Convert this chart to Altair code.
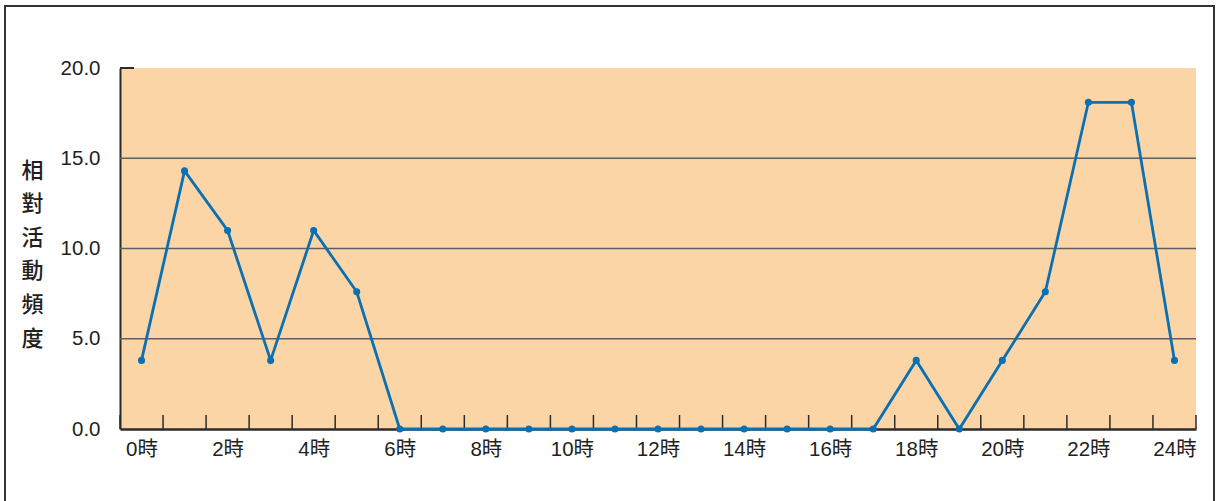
import altair as alt
import pandas as pd

hours = list(range(25))
activity = [3.8, 14.3, 11.0, 3.8, 11.0, 7.6, 0, 0, 0, 0, 0, 0, 0, 0, 0, 0, 0, 0,
            3.8, 0, 3.8, 7.6, 18.1, 18.1, 3.8]
y_ticks = [0, 5, 10, 15, 20]
grid_values = [5, 10, 15]
x_label_values = list(range(0, 25, 2))
x_tick_bounds = [h + 0.5 for h in range(-1, 25)]
y_title = ["相", "對", "活", "動", "頻", "度"]

FONT = "Liberation Sans, Noto Sans CJK TC"
BLUE = "#0a70b4"
DARK = "#2b2b2b"

W, H = 1076, 361

df = pd.DataFrame({"hour": hours, "value": activity})

xscale = alt.Scale(domain=[-0.5, 24.5], nice=False, zero=False)
yscale = alt.Scale(domain=[0, 20], nice=False)

x_enc = alt.X(
    "hour:Q",
    scale=xscale,
    axis=alt.Axis(
        values=x_label_values,
        labelExpr="datum.value + '時'",
        ticks=False,
        grid=False,
        title=None,
        labelPadding=10,
        labelFontSize=20.5,
        labelFont=FONT,
        labelColor="#231f20",
        domainColor=DARK,
        domainWidth=2.5,
    ),
)
y_enc = alt.Y(
    "value:Q",
    scale=yscale,
    axis=alt.Axis(
        values=y_ticks,
        format=".1f",
        ticks=False,
        grid=False,
        labelPadding=20,
        labelFontSize=20.5,
        labelFont=FONT,
        labelColor="#231f20",
        domainColor=DARK,
        domainWidth=2,
        title=y_title,
        titleAngle=0,
        titleFont=FONT,
        titleFontSize=22,
        titleFontWeight=500,
        titleColor="#231f20",
        titleLineHeight=33.6,
        titleAlign="center",
        titleBaseline="top",
        titleX=-88,
        titleY=92,
    ),
)

grid = alt.Chart(pd.DataFrame({"g": grid_values})).mark_rule(
    color="#5f5f5f", strokeWidth=1.5
).encode(y=alt.Y("g:Q", scale=yscale))

xticks = alt.Chart(pd.DataFrame({"b": x_tick_bounds})).mark_rule(
    color=DARK, strokeWidth=1.5
).encode(
    x=alt.X("b:Q", scale=xscale),
    y=alt.value(H - 14),
    y2=alt.value(H),
)

ytop = alt.Chart(pd.DataFrame({"t": [20]})).mark_rule(
    color=DARK, strokeWidth=2
).encode(
    y=alt.Y("t:Q", scale=yscale),
    x=alt.value(0),
    x2=alt.value(14),
)

line = alt.Chart(df).mark_line(
    color=BLUE,
    strokeWidth=2.8,
    point=alt.OverlayMarkDef(color=BLUE, filled=True, size=50, opacity=1),
).encode(x=x_enc, y=y_enc)

frame = alt.Chart(pd.DataFrame({"a": [0]})).mark_rect(
    fill=None, stroke="#333333", strokeWidth=2
).encode(
    x=alt.value(5 - 120),
    x2=alt.value(1214 - 120),
    y=alt.value(6 - 68),
    y2=alt.value(520 - 68),
)

chart = alt.layer(grid, xticks, ytop, line, frame).properties(
    width=W,
    height=H,
    autosize=alt.AutoSizeParams(type="none"),
    padding={"left": 120, "top": 68, "right": 22, "bottom": 72},
    background="white",
).configure_view(fill="#fbd5a5", stroke=None)

chart.save("out.html", embed_options={"renderer": "svg", "actions": False})
